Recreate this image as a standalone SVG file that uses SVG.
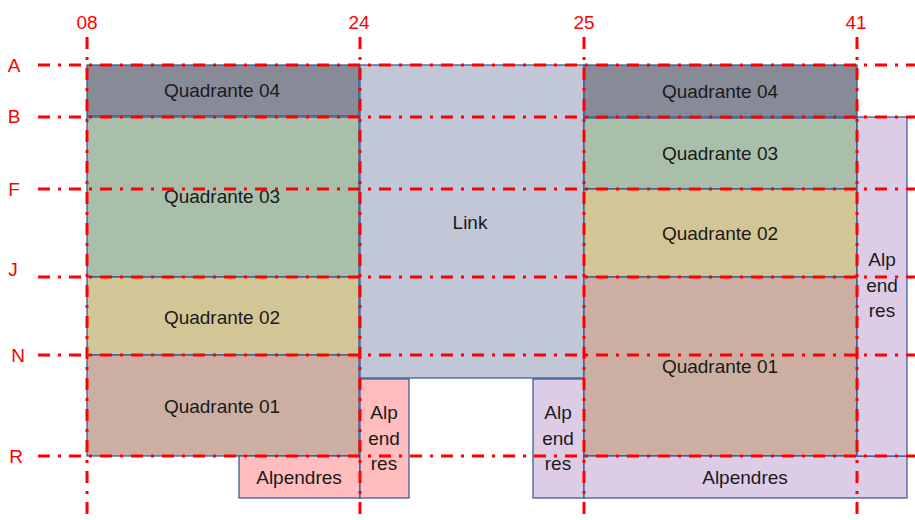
<svg xmlns="http://www.w3.org/2000/svg" width="915" height="520" viewBox="0 0 915 520">
<style>
.b{stroke:#2F528F;stroke-width:1.2}
.q4{fill:#868B97}
.q3{fill:#A9BFAA}
.q2{fill:#D2C697}
.q1{fill:#CCAFA2}
.lk{fill:#C1C7D7}
.pk{fill:#FFBDBD}
.pu{fill:#DCCCE6}
.t{font-family:"Liberation Sans",Arial,sans-serif;font-size:19px;fill:#1a1a1a;text-anchor:middle}
.g{stroke:#FF0000;stroke-width:3;stroke-dasharray:12 8 3 8;fill:none}
.r{font-family:"Liberation Sans",Arial,sans-serif;font-size:19px;fill:#FF0000;text-anchor:middle}
</style>
<rect width="915" height="520" fill="#ffffff"/>
<g id="link"><rect class="b lk" x="360" y="65" width="224" height="313"/><text class="t" x="470" y="229">Link</text></g>
<g id="l-q04"><rect class="b q4" x="87" y="65" width="272" height="51"/><text class="t" x="222" y="97">Quadrante 04</text></g>
<g id="l-q03"><rect class="b q3" x="87" y="117" width="272" height="160"/><text class="t" x="222" y="203">Quadrante 03</text></g>
<g id="l-q02"><rect class="b q2" x="87" y="277" width="272" height="78"/><text class="t" x="222" y="324">Quadrante 02</text></g>
<g id="l-q01"><rect class="b q1" x="87" y="355" width="272" height="101"/><text class="t" x="222" y="413">Quadrante 01</text></g>
<g id="l-alpendres"><rect class="b pk" x="239" y="456" width="121" height="42"/><text class="t" x="299" y="484">Alpendres</text></g>
<g id="l-alp"><rect class="b pk" x="360" y="379" width="49" height="119"/><text class="t" x="384" y="419">Alp</text><text class="t" x="384" y="445">end</text><text class="t" x="384" y="470">res</text></g>
<g id="m-alp"><rect class="b pu" x="533" y="379" width="51" height="119"/><text class="t" x="558" y="419">Alp</text><text class="t" x="558" y="445">end</text><text class="t" x="558" y="470">res</text></g>
<g id="r-q04"><rect class="b q4" x="584" y="65" width="273" height="52"/><text class="t" x="720" y="98">Quadrante 04</text></g>
<g id="r-q03"><rect class="b q3" x="584" y="118" width="273" height="71"/><text class="t" x="720" y="160">Quadrante 03</text></g>
<g id="r-q02"><rect class="b q2" x="584" y="189" width="273" height="88"/><text class="t" x="720" y="240">Quadrante 02</text></g>
<g id="r-q01"><rect class="b q1" x="584" y="277" width="273" height="179"/><text class="t" x="720" y="373">Quadrante 01</text></g>
<g id="r-alpendres"><rect class="b pu" x="584" y="456" width="323" height="42"/><text class="t" x="745" y="484">Alpendres</text></g>
<g id="r-alp"><rect class="b pu" x="857" y="117" width="50" height="339"/><text class="t" x="882" y="266">Alp</text><text class="t" x="882" y="292">end</text><text class="t" x="882" y="317">res</text></g>
<g id="grid">
<line class="g" x1="38" y1="65" x2="915" y2="65"/>
<line class="g" x1="38" y1="117" x2="915" y2="117"/>
<line class="g" x1="38" y1="189" x2="915" y2="189"/>
<line class="g" x1="38" y1="277" x2="915" y2="277"/>
<line class="g" x1="38" y1="355" x2="915" y2="355"/>
<line class="g" x1="38" y1="456" x2="915" y2="456"/>
<line class="g" x1="87" y1="37" x2="87" y2="520"/>
<line class="g" x1="360" y1="37" x2="360" y2="520"/>
<line class="g" x1="584" y1="37" x2="584" y2="520"/>
<line class="g" x1="857" y1="37" x2="857" y2="520"/>
</g>
<g id="labels">
<text class="r" x="87" y="29">08</text>
<text class="r" x="359" y="29">24</text>
<text class="r" x="584" y="29">25</text>
<text class="r" x="856" y="29">41</text>
<text class="r" x="14" y="72">A</text>
<text class="r" x="14" y="123">B</text>
<text class="r" x="14" y="196">F</text>
<text class="r" x="13" y="276">J</text>
<text class="r" x="18" y="362">N</text>
<text class="r" x="16" y="463">R</text>
</g>
</svg>
